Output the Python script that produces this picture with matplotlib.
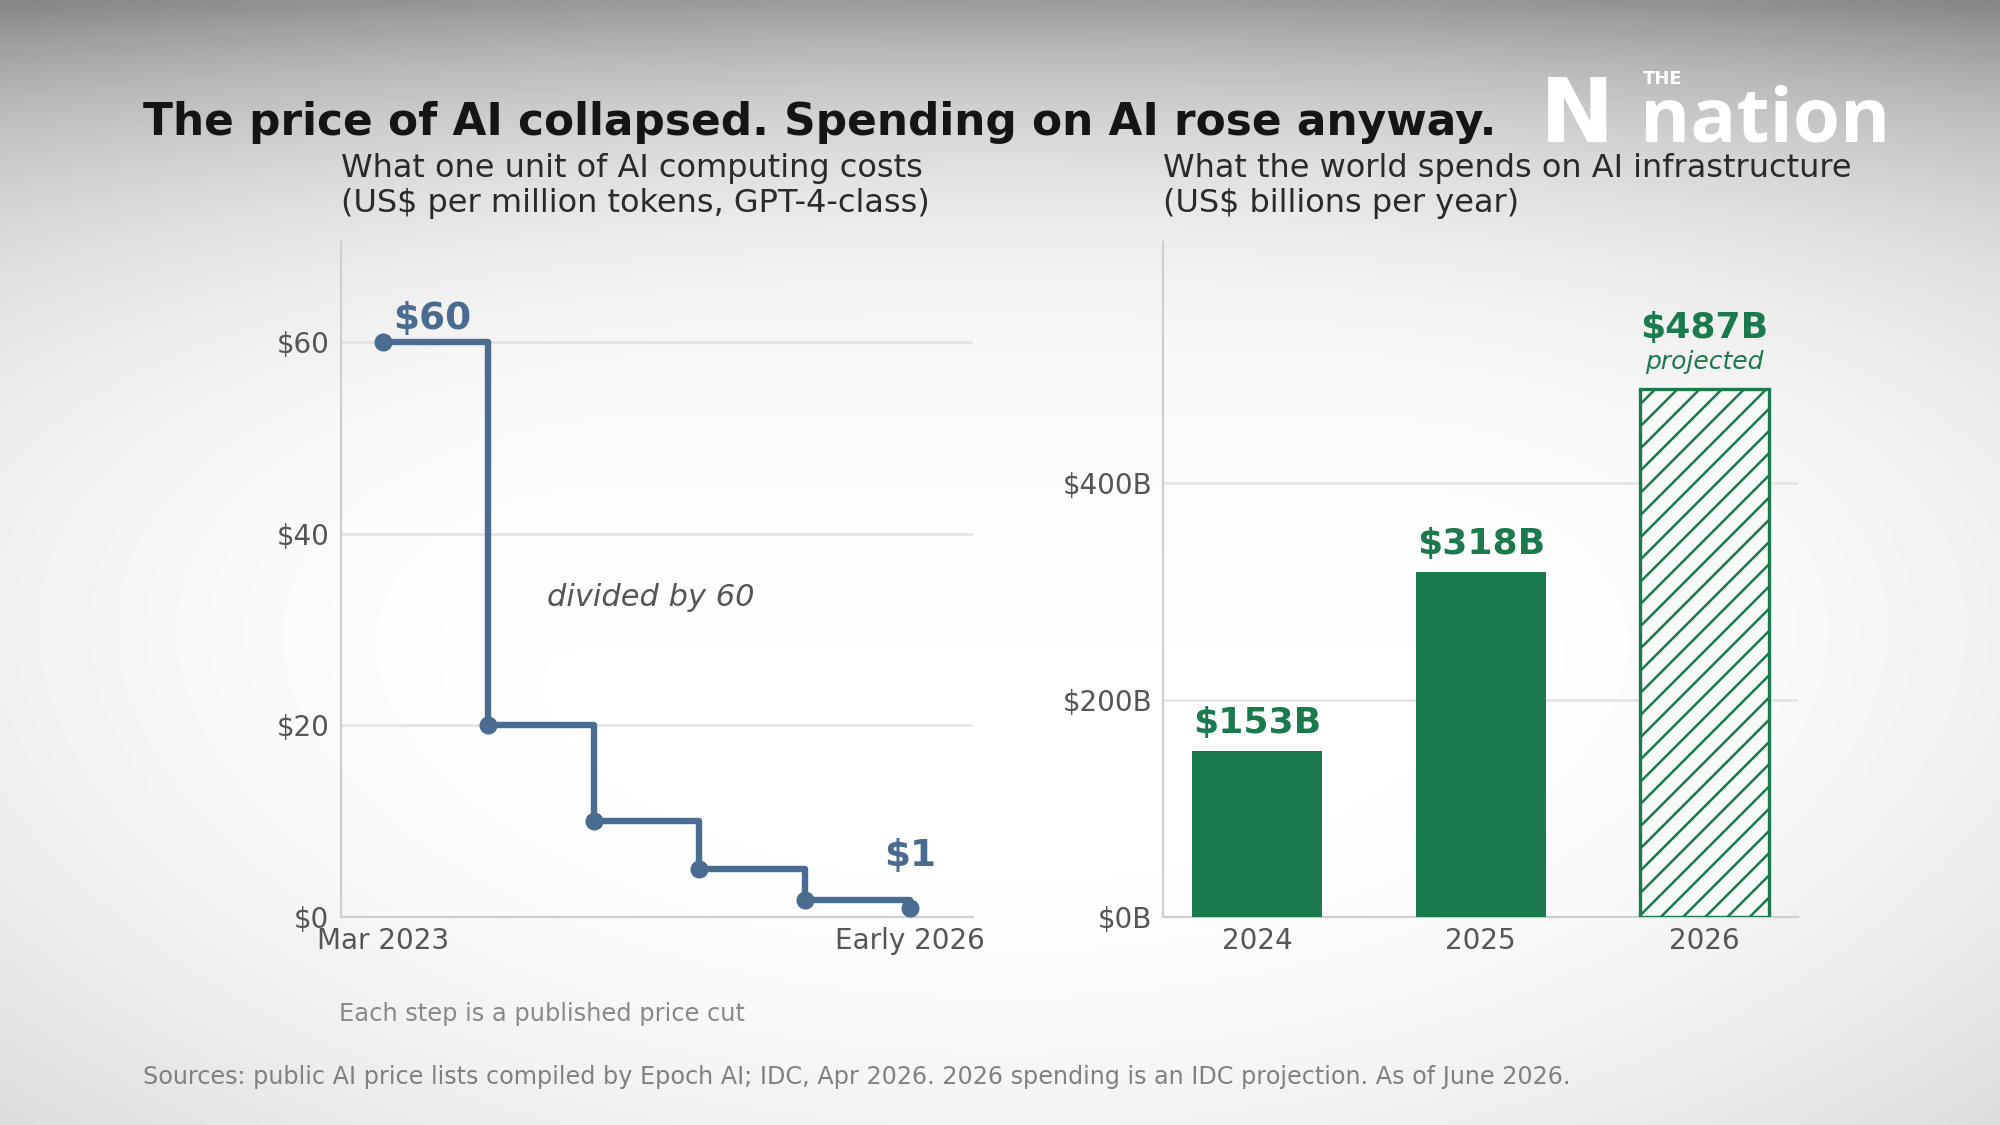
import numpy as np
import matplotlib
matplotlib.use('Agg')
import matplotlib.pyplot as plt

# 左: GPT-4クラスの価格 (US$ / 100万トークン)
price_steps = [60, 20, 10, 5, 1.75, 1]
price_tick_labels = ['Mar 2023', 'Early 2026']
price_yticks = [0, 20, 40, 60]

# 右: AIインフラ投資 (US$ 10億 / 年)
spend_years = ['2024', '2025', '2026']
spend_values = [153, 318, 487]
spend_labels = ['$153B', '$318B', '$487B']
spend_yticks = [0, 200, 400]

BLUE = '#4a6c91'
GREEN = '#1b7a4d'
TICK = '#555555'
GRID = '#e2e2e2'
SPINE = '#cfcfcf'


def background(fig):
    """周辺が暗くなるグラデーション背景"""
    h, w = 225, 400
    yy, xx = np.mgrid[0:h, 0:w]
    ypx = yy / h * 1125
    dx = (xx / w - 0.5) / 0.5
    dy = (yy / h - 0.5) / 0.5
    r = np.sqrt(dx ** 2 + dy ** 2)
    side = 0.15 * np.clip(r - 0.45, 0, None) ** 1.8
    top = 0.34 * np.exp(-ypx / 145)
    v = np.clip(1 - side - top, 0, 1)
    bg = fig.add_axes([0, 0, 1, 1], zorder=-10)
    bg.imshow(v, cmap='gray', vmin=0, vmax=1, aspect='auto',
              interpolation='bicubic', extent=(0, 1, 0, 1))
    bg.axis('off')


def style_axes(ax):
    ax.set_facecolor('none')
    for s in ['top', 'right']:
        ax.spines[s].set_visible(False)
    for s in ['left', 'bottom']:
        ax.spines[s].set_color(SPINE)
        ax.spines[s].set_linewidth(0.8)
    ax.tick_params(length=0, labelsize=10, colors=TICK)
    ax.tick_params(axis='y', pad=4)
    ax.tick_params(axis='x', pad=3.5)
    ax.grid(axis='y', color=GRID, linewidth=0.9)
    ax.set_axisbelow(True)


def price_chart(ax):
    x = np.arange(len(price_steps))
    ax.step(x, price_steps, where='post', color=BLUE, linewidth=2.3, zorder=3)
    ax.plot(x, price_steps, 'o', color=BLUE, markersize=5.5, zorder=4)
    ax.set_xlim(-0.4, len(price_steps) - 1 + 0.6)
    ax.set_ylim(0, 70.4)
    ax.set_yticks(price_yticks)
    ax.set_yticklabels([f'${v}' for v in price_yticks])
    ax.set_xticks([0, len(price_steps) - 1])
    ax.set_xticklabels(price_tick_labels)
    ax.text(0.1, 61.4, f'${price_steps[0]}', color=BLUE, fontsize=13.5,
            fontweight='bold', ha='left', va='baseline')
    ax.text(x[-1], 5.3, f'${price_steps[-1]}', color=BLUE, fontsize=13.5,
            fontweight='bold', ha='center', va='baseline')
    ax.text(2.54, 33.3, 'divided by 60', color='#555555', fontsize=11,
            style='italic', ha='center', va='center')
    ax.text(0, 1.035, 'What one unit of AI computing costs\n(US$ per million tokens, GPT-4-class)',
            transform=ax.transAxes, fontsize=11.5, color='#2a2a2a',
            ha='left', va='bottom', linespacing=1.15)


def spend_chart(ax):
    x = np.arange(len(spend_values))
    bars = ax.bar(x, spend_values, width=0.58, color=GREEN, zorder=3)
    # 2026年は予測値: 斜線
    last = bars[-1]
    last.set_facecolor('#f7faf8')
    last.set_edgecolor(GREEN)
    last.set_hatch('///')
    last.set_linewidth(1.2)
    for i, (v, lab) in enumerate(zip(spend_values, spend_labels)):
        off = 47 if i == len(spend_values) - 1 else 17
        ax.text(i, v + off, lab, color=GREEN, fontsize=13, fontweight='bold',
                ha='center', va='baseline')
    ax.text(x[-1], spend_values[-1] + 18, 'projected', color=GREEN, fontsize=9,
            style='italic', ha='center', va='baseline')
    ax.set_xlim(-0.42, len(spend_values) - 1 + 0.42)
    ax.set_ylim(0, 622)
    ax.set_yticks(spend_yticks)
    ax.set_yticklabels([f'${v}B' for v in spend_yticks])
    ax.set_xticks(x)
    ax.set_xticklabels(spend_years)
    ax.text(0, 1.035, 'What the world spends on AI infrastructure\n(US$ billions per year)',
            transform=ax.transAxes, fontsize=11.5, color='#2a2a2a',
            ha='left', va='bottom', linespacing=1.15)


def logo(fig):
    fig.text(0.770, 0.874, 'N', color='white', fontsize=32, fontweight='bold',
             ha='left', va='baseline')
    fig.text(0.8215, 0.930, 'THE', color='white', fontsize=6.5, fontweight='bold',
             ha='left', va='center')
    fig.text(0.820, 0.874, 'nation', color='white', fontsize=27.5, fontweight='bold',
             family='Open Sans', ha='left', va='baseline')


def main():
    plt.rcParams['hatch.linewidth'] = 0.9
    plt.rcParams['hatch.color'] = GREEN
    fig = plt.figure(figsize=(10, 5.625), dpi=200)
    background(fig)

    ax1 = fig.add_axes([0.1703, 0.1848, 0.3163, 0.5998])
    ax2 = fig.add_axes([0.5816, 0.1848, 0.3176, 0.5998])
    style_axes(ax1)
    style_axes(ax2)
    price_chart(ax1)
    spend_chart(ax2)

    fig.text(0.0714, 0.891, 'The price of AI collapsed. Spending on AI rose anyway.',
             fontsize=15.8, fontweight='bold', color='#151515', ha='left', va='center')
    fig.text(0.1697, 0.0986, 'Each step is a published price cut', fontsize=8.7,
             color='#888888', ha='left', va='center')
    fig.text(0.0714, 0.0431,
             'Sources: public AI price lists compiled by Epoch AI; IDC, Apr 2026. '
             '2026 spending is an IDC projection. As of June 2026.',
             fontsize=8.6, color='#808080', ha='left', va='center')
    logo(fig)

    fig.savefig('out.png', dpi=200)


if __name__ == "__main__":
    main()
